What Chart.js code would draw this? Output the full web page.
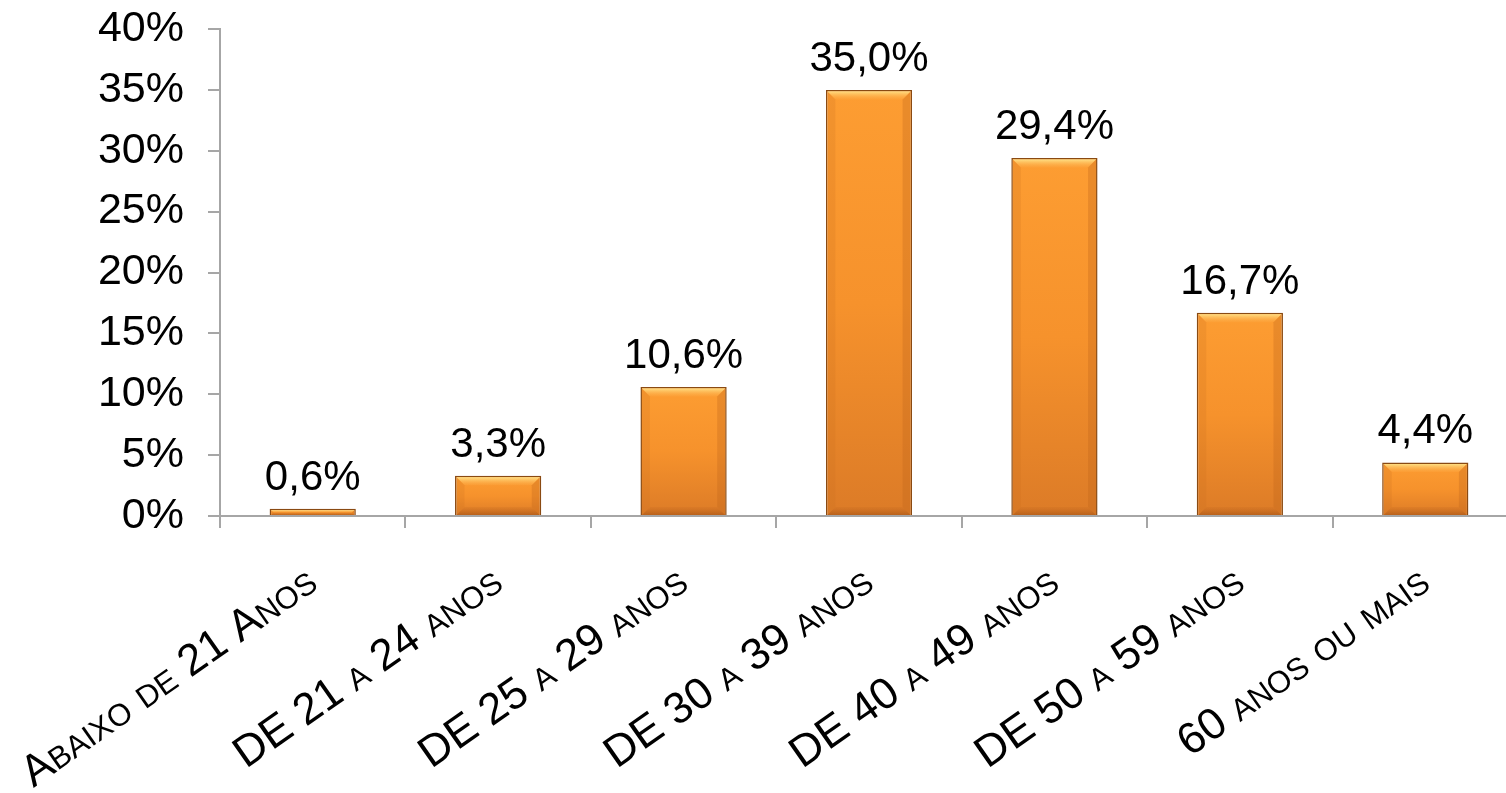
<!DOCTYPE html>
<html>
<head>
<meta charset="utf-8">
<script src="https://cdn.jsdelivr.net/npm/chart.js@4/dist/chart.umd.min.js"></script>
<style>
html,body{margin:0;padding:0;background:#fff;overflow:hidden;width:1506px;height:793px;}
canvas{display:block;}
</style>
</head>
<body>
<canvas id="c" width="1518" height="793"></canvas>
<script>
const categories = ["Abaixo de 21 Anos", "DE 21 a 24 anos", "DE 25 a 29 anos", "DE 30 a 39 anos", "DE 40 a 49 anos", "DE 50 a 59 anos", "60 anos ou mais"];
const values = [0.6, 3.3, 10.6, 35.0, 29.4, 16.7, 4.4];
const yTicks = [0, 5, 10, 15, 20, 25, 30, 35, 40];

const FONT = "'Liberation Sans', Arial, sans-serif";
const AXIS = '#a6a6a6';

function barFill(ctx) {
  const chart = ctx.chart;
  if (ctx.type !== 'data' || !chart.chartArea) return '#f7941d';
  const ys = chart.scales.y;
  const top = ys.getPixelForValue(values[ctx.dataIndex]);
  const base = ys.getPixelForValue(0);
  const g = chart.ctx.createLinearGradient(0, top, 0, Math.max(base, top + 1));
  g.addColorStop(0, '#fd9d32');
  g.addColorStop(0.5, '#f6922c');
  g.addColorStop(1, '#dc7b27');
  return g;
}

const bevelPlugin = {
  id: 'bevel',
  afterDatasetsDraw(chart) {
    const c = chart.ctx;
    const meta = chart.getDatasetMeta(0);
    c.save();
    meta.data.forEach((bar) => {
      const half = bar.width / 2;
      const l = bar.x - half + 1.5, r = bar.x + half - 1.5;
      const t = bar.y + 1.5, b = bar.base;
      const h = b - t;
      const bv = Math.max(1, Math.min(8, h / 2));
      let g = c.createLinearGradient(0, t, 0, t + bv);
      g.addColorStop(0, 'rgba(255,222,130,1)');
      g.addColorStop(1, 'rgba(253,170,70,0.25)');
      c.fillStyle = g;
      c.beginPath();
      c.moveTo(l, t); c.lineTo(r, t); c.lineTo(r - bv, t + bv); c.lineTo(l + bv, t + bv); c.closePath();
      c.fill();
      g = c.createLinearGradient(0, b - bv, 0, b);
      g.addColorStop(0, 'rgba(190,100,30,0.15)');
      g.addColorStop(1, 'rgba(160,80,20,0.6)');
      c.fillStyle = g;
      c.beginPath();
      c.moveTo(l + bv, b - bv); c.lineTo(r - bv, b - bv); c.lineTo(r, b); c.lineTo(l, b); c.closePath();
      c.fill();
      c.fillStyle = 'rgba(190,100,25,0.3)';
      c.beginPath();
      c.moveTo(r, t); c.lineTo(r, b); c.lineTo(r - bv, b - bv); c.lineTo(r - bv, t + bv); c.closePath();
      c.fill();
      c.fillStyle = 'rgba(200,110,30,0.2)';
      c.beginPath();
      c.moveTo(l, t); c.lineTo(l + bv, t + bv); c.lineTo(l + bv, b - bv); c.lineTo(l, b); c.closePath();
      c.fill();
    });
    c.restore();
  }
};

const labelPlugin = {
  id: 'valueLabels',
  afterDatasetsDraw(chart) {
    const c = chart.ctx;
    const meta = chart.getDatasetMeta(0);
    c.save();
    c.font = '42px ' + FONT;
    c.fillStyle = '#000';
    c.textAlign = 'center';
    c.textBaseline = 'alphabetic';
    meta.data.forEach((bar, i) => {
      const txt = values[i].toFixed(1).replace('.', ',') + '%';
      c.fillText(txt, bar.x, bar.y - 19);
    });
    c.restore();
  }
};

function noPad(s) { s.paddingTop = 0; s.paddingBottom = 0; s.paddingLeft = 0; s.paddingRight = 0; }

new Chart(document.getElementById('c'), {
  type: 'bar',
  data: {
    labels: categories,
    datasets: [{
      data: values,
      backgroundColor: barFill,
      borderColor: '#8a4a12',
      borderWidth: 1.5,
      barPercentage: 0.465,
      categoryPercentage: 1.0
    }]
  },
  plugins: [bevelPlugin, labelPlugin],
  options: {
    responsive: false,
    animation: false,
    devicePixelRatio: 1,
    layout: { padding: { top: 29, left: 0, right: 0, bottom: 0 } },
    plugins: { legend: { display: false }, tooltip: { enabled: false } },
    scales: {
      y: {
        min: 0, max: 40,
        afterBuildTicks: (s) => { s.ticks = yTicks.map(v => ({ value: v })); },
        afterFit: (s) => { s.width = 220; noPad(s); },
        ticks: {
          callback: (v) => v + '%',
          color: '#000',
          font: { family: FONT, size: 43 },
          padding: 24
        },
        grid: { drawOnChartArea: false, drawTicks: true, tickLength: 12, color: AXIS, lineWidth: 2 },
        border: { display: true, color: AXIS, width: 2 }
      },
      x: {
        afterFit: (s) => { s.height = 793 - 516; noPad(s); },
        ticks: {
          color: '#000',
          font: { family: FONT, size: 44, weight: 'small-caps' },
          maxRotation: 35, minRotation: 35,
          autoSkip: false,
          padding: 28
        },
        grid: { offset: true, drawOnChartArea: false, drawTicks: true, tickLength: 12, color: AXIS, lineWidth: 2 },
        border: { display: true, color: AXIS, width: 2 }
      }
    }
  }
});
</script>
</body>
</html>
